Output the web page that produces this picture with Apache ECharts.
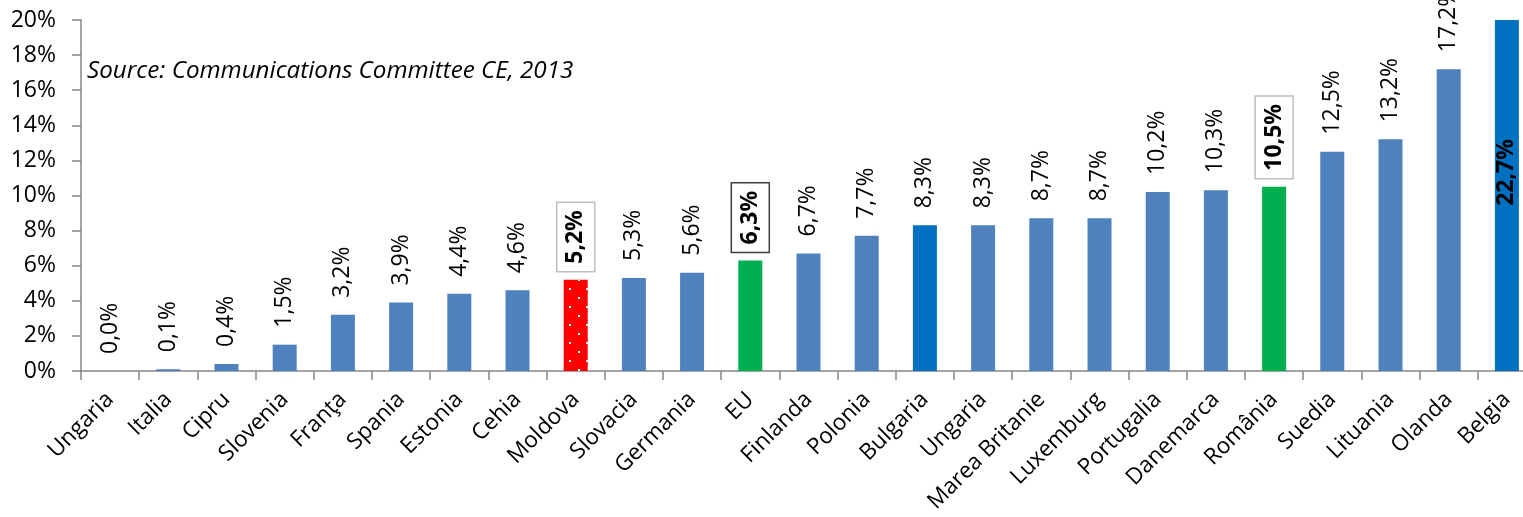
<!DOCTYPE html>
<html>
<head>
<meta charset="utf-8">
<script src="https://cdn.jsdelivr.net/npm/echarts@6/dist/echarts.min.js"></script>
<style>
  html, body { margin: 0; padding: 0; background: #fff; }
  #chart { width: 1523px; height: 517px; }
</style>
</head>
<body>
<div id="chart"></div>
<script>
const countries = [
  "Ungaria", "Italia", "Cipru", "Slovenia", "Franţa", "Spania", "Estonia",
  "Cehia", "Moldova", "Slovacia", "Germania", "EU", "Finlanda", "Polonia",
  "Bulgaria", "Ungaria", "Marea Britanie", "Luxemburg", "Portugalia",
  "Danemarca", "România", "Suedia", "Lituania", "Olanda", "Belgia"
];
const values = [
  0.0, 0.1, 0.4, 1.5, 3.2, 3.9, 4.4, 4.6, 5.2, 5.3, 5.6, 6.3, 6.7, 7.7,
  8.3, 8.3, 8.7, 8.7, 10.2, 10.3, 10.5, 12.5, 13.2, 17.2, 22.7
];
const yTicks = [0, 2, 4, 6, 8, 10, 12, 14, 16, 18, 20];
const sourceText = "Source: Communications Committee CE, 2013";

const FONT = "Open Sans";
const BLUE = "#4F81BD";
const DARK_BLUE = "#0070C0";
const GREEN = "#00B050";
const RED = "#FF0000";

const fmt = (v) => v.toFixed(1).replace(".", ",") + "%";

const baseLabel = {
  show: true,
  position: "top",
  distance: 17,
  rotate: 90,
  align: "left",
  verticalAlign: "middle",
  fontFamily: FONT,
  fontSize: 23,
  color: "#000",
  formatter: (p) => fmt(p.value)
};

function boxLabel(border) {
  return Object.assign({}, baseLabel, {
    fontWeight: "bold",
    distance: 8,
    borderColor: border,
    borderWidth: 1.5,
    padding: [7, 8, 5, 8],
    lineHeight: 26
  });
}

const seriesData = values.map((v, i) => {
  const name = countries[i];
  const item = { value: v, itemStyle: { color: BLUE }, label: baseLabel };
  if (name === "Moldova") {
    item.itemStyle = {
      color: RED,
      decal: {
        symbol: "rect",
        symbolSize: 1,
        color: "#fff",
        dashArrayX: [[1.4, 14.6], [0, 8, 1.4, 6.6]],
        dashArrayY: [1.4, 6.6]
      }
    };
    item.label = boxLabel("#BFBFBF");
  } else if (name === "EU") {
    item.itemStyle = { color: GREEN };
    item.label = boxLabel("#404040");
  } else if (name === "România") {
    item.itemStyle = { color: GREEN };
    item.label = boxLabel("#BFBFBF");
  } else if (name === "Bulgaria") {
    item.itemStyle = { color: DARK_BLUE };
  } else if (name === "Belgia") {
    item.itemStyle = { color: DARK_BLUE };
    // label sits at the middle of the full (unclipped) bar
    item.label = Object.assign({}, baseLabel, {
      position: "inside",
      align: "center",
      fontWeight: "bold",
      offset: [23, 0]
    });
  }
  return item;
});

const chart = echarts.init(document.getElementById("chart"));
chart.setOption({
  animation: false,
  textStyle: { fontFamily: FONT },
  title: {
    text: sourceText,
    left: 82,
    top: 54,
    textStyle: {
      fontFamily: FONT,
      fontSize: 24.2,
      fontStyle: "italic",
      fontWeight: "normal",
      color: "#000"
    }
  },
  grid: {
    left: 81,
    right: -13,
    top: 20,
    bottom: 146,
    outerBoundsMode: "none"
  },
  xAxis: {
    type: "category",
    data: countries,
    axisLine: { lineStyle: { color: "#868686", width: 1.5 } },
    axisTick: { show: true, length: 9, lineStyle: { color: "#868686", width: 1.5 } },
    axisLabel: {
      interval: 0,
      rotate: 45,
      margin: 25,
      fontFamily: FONT,
      fontSize: 22.5,
      color: "#000"
    }
  },
  yAxis: {
    type: "value",
    min: yTicks[0],
    max: yTicks[yTicks.length - 1],
    interval: yTicks[1] - yTicks[0],
    splitLine: { show: false },
    axisLine: { show: true, lineStyle: { color: "#868686", width: 1.5 } },
    axisTick: { show: true, length: 9, lineStyle: { color: "#868686", width: 1.5 } },
    axisLabel: {
      margin: 25,
      fontFamily: FONT,
      fontSize: 23,
      color: "#000",
      formatter: "{value}%"
    }
  },
  series: [
    {
      type: "bar",
      barWidth: 24,
      data: seriesData
    }
  ]
});
</script>
</body>
</html>
